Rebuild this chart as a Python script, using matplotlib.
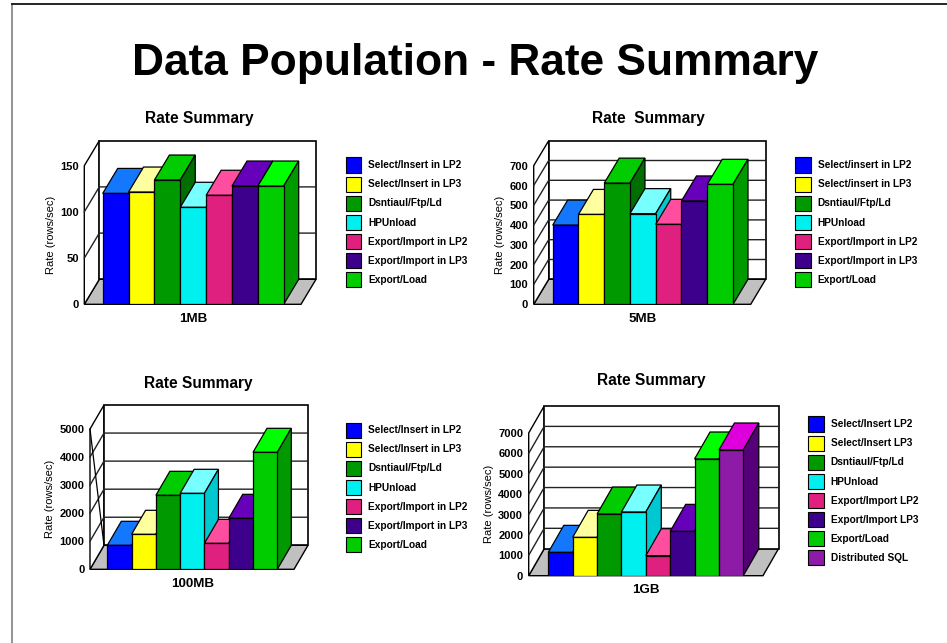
import matplotlib
matplotlib.use('Agg')
import matplotlib.pyplot as plt
from matplotlib.patches import Patch
from matplotlib.lines import Line2D

W, H = 947, 643
plt.rcParams['font.family'] = ['Liberation Sans', 'DejaVu Sans']

main_title = 'Data Population - Rate Summary'
ylabel = 'Rate (rows/sec)'

labels_a = ['Select/Insert in LP2', 'Select/Insert in LP3', 'Dsntiaul/Ftp/Ld', 'HPUnload',
            'Export/Import in LP2', 'Export/Import in LP3', 'Export/Load']
labels_b = ['Select/insert in LP2', 'Select/insert in LP3', 'Dsntiaul/Ftp/Ld', 'HPUnload',
            'Export/Import in LP2', 'Export/Import in LP3', 'Export/Load']
labels_d = ['Select/Insert LP2', 'Select/Insert LP3', 'Dsntiaul/Ftp/Ld', 'HPUnload',
            'Export/Import LP2', 'Export/Import LP3', 'Export/Load', 'Distributed SQL']

values_1mb = [120, 121.5, 134.5, 105, 118, 128, 128]
values_5mb = [400, 454, 612, 458, 404, 522, 606]
values_100mb = [855, 1247, 2637, 2708, 926, 1817, 4169]
values_1gb = [1145, 1881, 3025, 3124, 981, 2175, 5724, 6166]

front_colors = ['#0000ff', '#ffff00', '#009900', '#00f0f0', '#e0207f', '#3d008c', '#00cc00', '#8e1aa8']
top_colors = ['#1478ff', '#ffffa0', '#00cc00', '#78ffff', '#ff4da0', '#6600bb', '#00ff00', '#dd00dd']
side_colors = ['#0000c0', '#cccc00', '#006e00', '#00c8d0', '#b0186a', '#2c0070', '#009900', '#550078']


def draw_panel(values, labels, ymax, step, xname, title, left, right, base, top, dx, dy,
               bar_l, bar_r, title_xy, leg_x, leg_y, stray=False):
    # left/right/base/top are pixels of the front plane, dx/dy the depth in pixels
    ax = fig.add_axes([left / W, 1 - base / H, (right - left) / W, (base - top) / H])
    n = len(values)
    bw = (bar_r - bar_l) / n
    ax.set_xlim(-(bar_l - left) / bw, n + (right - bar_r) / bw)
    ax.set_ylim(0, ymax)
    x0, x1 = ax.get_xlim()
    ddx = dx / bw
    ddy = dy * ymax / (base - top)

    # floor, walls, grid
    ax.fill([x0, x1, x1 + ddx, x0 + ddx], [0, 0, ddy, ddy], fc='#c0c0c0', ec='k', lw=1, clip_on=False, zorder=1)
    ax.fill([x0, x0 + ddx, x0 + ddx, x0], [0, ddy, ymax + ddy, ymax], fc='w', ec='k', lw=1, clip_on=False, zorder=1)
    ax.fill([x0 + ddx, x1 + ddx, x1 + ddx, x0 + ddx], [ddy, ddy, ymax + ddy, ymax + ddy], fc='w', ec='k', lw=1.2,
            clip_on=False, zorder=1)
    ticks = list(range(0, ymax + 1, step))
    for t in ticks[1:-1]:
        ax.plot([x0, x0 + ddx, x1 + ddx], [t, t + ddy, t + ddy], color='#222222', lw=1, clip_on=False, zorder=1.5)
    if stray:
        ax.plot([x0, x0 + ddx], [ymax, ddy], color='k', lw=0.9, clip_on=False, zorder=1.5)

    # bars, left to right so each one covers the one before
    for i, v in enumerate(values):
        z = 3 + i
        ax.bar(i, v, width=1, align='edge', color=front_colors[i], edgecolor='k', lw=0.9, zorder=z + 0.5)
        ax.fill([i, i + 1, i + 1 + ddx, i + ddx], [v, v, v + ddy, v + ddy], fc=top_colors[i], ec='k', lw=0.9,
                clip_on=False, zorder=z)
        ax.fill([i + 1, i + 1 + ddx, i + 1 + ddx, i + 1], [0, ddy, v + ddy, v], fc=side_colors[i], ec='k', lw=0.9,
                clip_on=False, zorder=z)

    ax.patch.set_visible(False)
    for s in ['top', 'right', 'left', 'bottom']:
        ax.spines[s].set_visible(False)
    ax.set_yticks(ticks)
    ax.set_yticklabels([str(t) for t in ticks], fontsize=8, fontweight='bold')
    ax.tick_params(axis='y', length=0, pad=4)
    ax.set_xticks([(bar_l - left + (bar_r - bar_l) / 2) / bw + x0])
    ax.set_xticklabels([xname], fontsize=9.6, fontweight='bold')
    ax.tick_params(axis='x', length=0, pad=6)
    ax.set_ylabel(ylabel, fontsize=8, labelpad=3)

    fig.text(title_xy[0] / W, 1 - title_xy[1] / H, title, fontsize=11.2, fontweight='bold', ha='center', va='center')

    handles = [Patch(fc=front_colors[i], ec='k', lw=0.8, label=labels[i]) for i in range(n)]
    fig.legend(handles=handles, loc='upper left', bbox_to_anchor=(leg_x / W, 1 - leg_y / H), frameon=False,
               prop={'size': 7.25, 'weight': 'bold'}, borderpad=0, borderaxespad=0, handlelength=1.55,
               handleheight=1.915, labelspacing=0.41, handletextpad=0.7)


fig = plt.figure(figsize=(W / 100, H / 100), dpi=100, facecolor='w')

# page rules
fig.add_artist(Line2D([12 / W, 12 / W], [0, 1 - 4 / H], color='#808080', lw=1.2))
fig.add_artist(Line2D([12 / W, 1], [1 - 4 / H, 1 - 4 / H], color='k', lw=1.2))
fig.text(475.5 / W, 1 - 63 / H, main_title, fontsize=31.9, fontweight='bold', ha='center', va='center')

draw_panel(values_1mb, labels_a, 150, 50, '1MB', 'Rate Summary', 84.3, 301, 304.3, 165.7, 15, 25,
           102.7, 283.7, (199, 118.5), 345.7, 157.5)
draw_panel(values_5mb, labels_b, 700, 100, '5MB', 'Rate  Summary', 533.7, 750.7, 304.3, 165.7, 15, 25,
           552.7, 733, (648, 119), 795, 157.5)
draw_panel(values_100mb, labels_a, 5000, 1000, '100MB', 'Rate Summary', 90, 294, 569.3, 429, 14, 24,
           107.3, 277.3, (198, 383.5), 345.7, 422.5, stray=True)
draw_panel(values_1gb, labels_d, 7000, 1000, '1GB', 'Rate Summary', 528.7, 763, 575.7, 433, 15.5, 27,
           548.3, 743.3, (651, 381), 808, 416.5)

fig.savefig('out.png', dpi=100)
